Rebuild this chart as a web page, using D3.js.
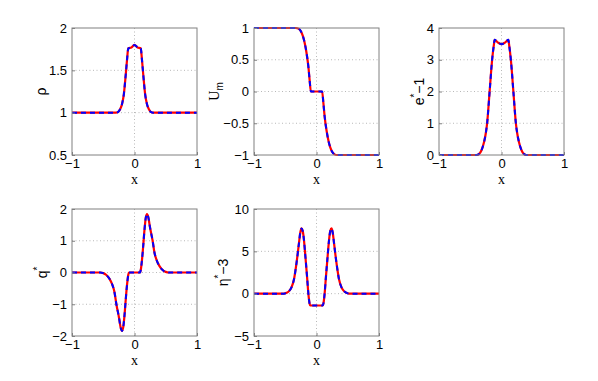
<!DOCTYPE html>
<html lang="en">
<head>
  <meta charset="UTF-8">
  <title>Profiles</title>
  <style>
    body { margin: 0; background: #fff; }
    svg { display: block; }
    .lbl { font-family: "Liberation Sans", Arial, sans-serif; font-size: 14px; fill: #000; }
    .serif { font-family: "Liberation Serif", "Times New Roman", serif; }
  </style>
</head>
<body>
  <svg width="598" height="381"></svg>
  <script src="https://d3js.org/d3.v7.min.js"></script>
  <script>
    // values (red = reference, blue dashed = computed, same curve)
    var rhoX = [-1, -0.4, -0.3, -0.26, -0.23, -0.2, -0.17, -0.14, -0.12, -0.1, -0.05, 0, 0.05, 0.1, 0.12, 0.14, 0.17, 0.2, 0.23, 0.26, 0.3, 0.4, 1];
    var rho  = [1, 1, 1, 1.01, 1.04, 1.1, 1.22, 1.45, 1.62, 1.76, 1.77, 1.8, 1.77, 1.76, 1.62, 1.45, 1.22, 1.1, 1.04, 1.01, 1, 1, 1];

    var umX = [-1, -0.33, -0.29, -0.25, -0.22, -0.195, -0.16, -0.13, -0.11, -0.09, 0.09, 0.11, 0.13, 0.16, 0.195, 0.22, 0.25, 0.29, 0.33, 1];
    var um  = [1, 1, 0.99, 0.95, 0.88, 0.79, 0.61, 0.39, 0.18, 0, 0, -0.18, -0.39, -0.61, -0.79, -0.88, -0.95, -0.99, -1, -1];

    var eX = [-1, -0.4, -0.36, -0.32, -0.28, -0.25, -0.23, -0.19, -0.15, -0.12, -0.11, -0.06, 0, 0.06, 0.11, 0.12, 0.15, 0.19, 0.23, 0.25, 0.28, 0.32, 0.36, 0.4, 1];
    var eStar = [0, 0, 0.03, 0.15, 0.4, 0.7, 1.0, 2.0, 3.0, 3.5, 3.63, 3.55, 3.49, 3.55, 3.63, 3.5, 3.0, 2.0, 1.0, 0.7, 0.4, 0.15, 0.03, 0, 0];

    var qX = [-1, -0.55, -0.5, -0.45, -0.4, -0.36, -0.32, -0.29, -0.25, -0.22, -0.2, -0.18, -0.16, -0.14, -0.12, -0.1, -0.09,
              0.09, 0.1, 0.12, 0.14, 0.16, 0.18, 0.2, 0.22, 0.25, 0.29, 0.32, 0.36, 0.4, 0.45, 0.5, 0.55, 1];
    var qStar = [0, 0, -0.02, -0.08, -0.2, -0.36, -0.62, -1.0, -1.4, -1.75, -1.84, -1.72, -1.35, -0.85, -0.4, -0.08, 0,
                 0, 0.08, 0.4, 0.85, 1.35, 1.72, 1.84, 1.75, 1.4, 1.0, 0.62, 0.36, 0.2, 0.08, 0.02, 0, 0];

    var etaX = [-1, -0.52, -0.48, -0.44, -0.4, -0.36, -0.32, -0.28, -0.26, -0.24, -0.22, -0.2, -0.18, -0.15, -0.13, -0.11, -0.1,
                0.1, 0.11, 0.13, 0.15, 0.18, 0.2, 0.22, 0.24, 0.26, 0.28, 0.32, 0.36, 0.4, 0.44, 0.48, 0.52, 1];
    var etaStar = [0, 0, 0.1, 0.3, 0.75, 1.7, 3.6, 6.0, 7.2, 7.7, 7.4, 6.3, 4.6, 1.9, 0, -1.2, -1.4,
                   -1.4, -1.2, 0, 1.9, 4.6, 6.3, 7.4, 7.7, 7.2, 6.0, 3.6, 1.7, 0.75, 0.3, 0.1, 0, 0];

    var xTicks = [-1, 0, 1];
    var rhoTicks = [0.5, 1, 1.5, 2];
    var umTicks = [-1, -0.5, 0, 0.5, 1];
    var eTicks = [0, 1, 2, 3, 4];
    var qTicks = [-2, -1, 0, 1, 2];
    var etaTicks = [-5, 0, 5, 10];

    var w = 125, h = 127;
    var panels = [
      { left: 72,  top: 28,  xs: rhoX, ys: rho,     yTicks: rhoTicks, lx: 46,  label: [["\u03c1"]] },
      { left: 254, top: 28,  xs: umX,  ys: um,      yTicks: umTicks,  lx: 219, label: [["U", "serif"], ["m", "sub"]] },
      { left: 439, top: 28,  xs: eX,   ys: eStar,   yTicks: eTicks,   lx: 424, label: [["e"], ["*", "sup"], ["\u22121", "back"]] },
      { left: 72,  top: 209, xs: qX,   ys: qStar,   yTicks: qTicks,   lx: 47,  label: [["q"], ["*", "sup"]] },
      { left: 254, top: 209, xs: etaX, ys: etaStar, yTicks: etaTicks, lx: 228, label: [["\u03b7"], ["*", "sup"], ["\u22123", "back"]] }
    ];

    var svg = d3.select("svg");
    var minus = d => String(d).replace("-", "\u2212");

    panels.forEach(function(p) {
      var xScale = d3.scaleLinear().domain([-1, 1]).range([0, w]);
      var yScale = d3.scaleLinear().domain(d3.extent(p.yTicks)).range([h, 0]);
      var g = svg.append("g").attr("transform", "translate(" + p.left + "," + p.top + ")");

      // dotted grid on the inner ticks
      g.selectAll(".gx").data(xTicks.slice(1, -1)).enter().append("line")
          .attr("x1", d => xScale(d)).attr("x2", d => xScale(d))
          .attr("y1", 0).attr("y2", h)
          .attr("stroke", "#b8b8b8").attr("stroke-dasharray", "1,2.5");
      g.selectAll(".gy").data(p.yTicks.slice(1, -1)).enter().append("line")
          .attr("y1", d => yScale(d)).attr("y2", d => yScale(d))
          .attr("x1", 0).attr("x2", w)
          .attr("stroke", "#b8b8b8").attr("stroke-dasharray", "1,2.5");

      var pts = p.xs.map((x, i) => [x, p.ys[i]]);
      var line = d3.line().x(d => xScale(d[0])).y(d => yScale(d[1])).curve(d3.curveMonotoneX);

      g.append("path").datum(pts).attr("d", line)
          .attr("fill", "none").attr("stroke", "#ff0000").attr("stroke-width", 2.2);
      g.append("path").datum(pts).attr("d", line)
          .attr("fill", "none").attr("stroke", "#0000ff").attr("stroke-width", 2)
          .attr("stroke-dasharray", "5,4");

      // axes
      var xAxis = g.append("g").attr("transform", "translate(0," + h + ")")
          .call(d3.axisBottom(xScale).tickValues(xTicks).tickSize(-3).tickPadding(4).tickFormat(minus));
      var yAxis = g.append("g")
          .call(d3.axisLeft(yScale).tickValues(p.yTicks).tickSize(-3).tickPadding(5).tickFormat(minus));
      [xAxis, yAxis].forEach(function(a) {
        a.attr("font-size", 13).attr("font-family", "'Liberation Sans', Arial, sans-serif");
        a.select(".domain").remove();
        a.selectAll(".tick line").attr("stroke", "#808080");
        a.selectAll(".tick text").attr("fill", "#000");
      });

      g.append("rect").attr("width", w).attr("height", h)
          .attr("fill", "none").attr("stroke", "#808080").attr("stroke-width", 1);

      g.append("text").attr("class", "lbl serif")
          .attr("x", w / 2).attr("y", h + 29)
          .attr("text-anchor", "middle").text("x");

      // y label, rotated
      var cy = p.top + h / 2;
      var t = svg.append("text").attr("class", "lbl")
          .attr("text-anchor", "middle")
          .attr("transform", "translate(" + p.lx + "," + cy + ") rotate(-90)");
      p.label.forEach(function(part) {
        var s = t.append("tspan").text(part[0]);
        if (part[1] === "serif") s.attr("class", "serif");
        if (part[1] === "sub") s.attr("dy", 4).style("font-size", "10px");
        if (part[1] === "sup") s.attr("dy", -6).style("font-size", "10px");
        if (part[1] === "back") s.attr("dy", 6);
      });
    });
  </script>
</body>
</html>
